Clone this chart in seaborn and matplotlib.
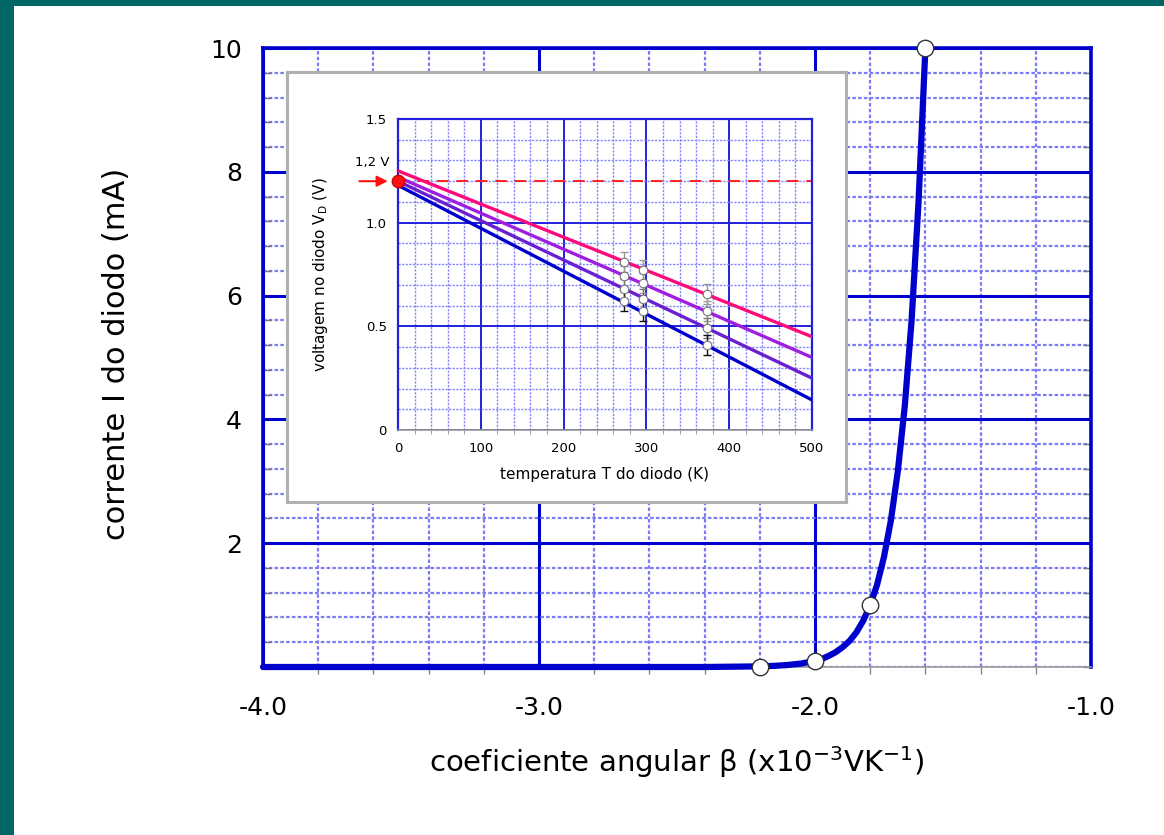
import matplotlib
matplotlib.use("Agg")
import matplotlib.pyplot as plt
import seaborn as sns
from matplotlib.patches import Rectangle
from matplotlib.ticker import MultipleLocator, FixedLocator

# ---------------- data ----------------
beta_curve = [-4.0, -3.0, -2.4, -2.2, -2.15, -2.1, -2.05, -2.0, -1.975, -1.95,
              -1.925, -1.9, -1.875, -1.85, -1.825, -1.8, -1.775, -1.75,
              -1.725, -1.7, -1.675, -1.65, -1.625, -1.6]
current_curve = [0.0, 0.0, 0.0, 0.01, 0.018, 0.032, 0.056, 0.1, 0.13, 0.18,
                 0.24, 0.32, 0.42, 0.56, 0.75, 1.0, 1.33, 1.78,
                 2.37, 3.16, 4.2, 5.6, 7.5, 10.0]
beta_pts = [-2.2, -2.0, -1.8, -1.6]
current_pts = [0.0, 0.1, 1.0, 10.0]
main_xticks = [-4.0, -3.0, -2.0, -1.0]
main_xticklabels = ["-4.0", "-3.0", "-2.0", "-1.0"]
main_yticks = [2, 4, 6, 8, 10]
main_yticklabels = ["2", "4", "6", "8", "10"]

temp_line = [0, 500]
vd_pink = [1.25, 0.45]
vd_purple = [1.22, 0.35]
vd_indigo = [1.20, 0.25]
vd_blue = [1.18, 0.145]
temp_meas = [273, 296, 373]
vd_meas_pink = [0.81, 0.772, 0.656]
vd_meas_purple = [0.743, 0.709, 0.574]
vd_meas_indigo = [0.68, 0.632, 0.492]
vd_meas_blue = [0.622, 0.574, 0.41]
vd_err = 0.05
v_ref = 1.2
inset_xticks = [0, 100, 200, 300, 400, 500]
inset_yticks = [0, 0.5, 1.0, 1.5]
inset_yticklabels = ["0", "0.5", "1.0", "1.5"]

# ---------------- style ----------------
sns.set_style("white")
plt.rcParams['font.family'] = ['DejaVu Sans']
plt.rcParams['text.color'] = 'black'
plt.rcParams['axes.labelcolor'] = 'black'
plt.rcParams['xtick.labelcolor'] = 'black'
plt.rcParams['ytick.labelcolor'] = 'black'

W, H = 1164, 835
fig = plt.figure(figsize=(W / 100, H / 100), dpi=100)
fig.patch.set_facecolor('white')
teal = '#006666'
fig.add_artist(Rectangle((0, 0), 14 / W, 1, transform=fig.transFigure,
                         facecolor=teal, edgecolor='none', zorder=-5))
fig.add_artist(Rectangle((0, 1 - 6 / H), 1, 6 / H, transform=fig.transFigure,
                         facecolor=teal, edgecolor='none', zorder=-5))

BLUE = '#0000cc'
MINOR = '#7b7bf6'

# ---------------- main axes ----------------
ax = fig.add_axes([263 / W, 1 - 667 / H, 828 / W, 619 / H])
ax.set_facecolor('white')
ax.set_xlim(-4.0, -1.0)
ax.set_ylim(0, 10)
ax.xaxis.set_major_locator(FixedLocator(main_xticks))
ax.set_xticklabels(main_xticklabels)
ax.yaxis.set_major_locator(FixedLocator(main_yticks))
ax.set_yticklabels(main_yticklabels)
ax.xaxis.set_minor_locator(MultipleLocator(0.2))
ax.yaxis.set_minor_locator(MultipleLocator(0.4))
ax.grid(which='major', color=BLUE, lw=2.2, ls='-')
ax.grid(which='minor', color=MINOR, lw=1.6, ls=(0, (1.6, 1.0)))
ax.set_axisbelow(True)
for s in ['left', 'top', 'right']:
    ax.spines[s].set_color(BLUE)
    ax.spines[s].set_linewidth(2.6)
    ax.spines[s].set_visible(True)
ax.spines['bottom'].set_color('#999999')
ax.spines['bottom'].set_linewidth(1.2)
ax.spines['bottom'].set_visible(True)
ax.tick_params(axis='y', which='major', length=0, labelsize=18, pad=15)
ax.tick_params(axis='x', which='major', length=0, labelsize=18, pad=21)
ax.tick_params(axis='x', which='minor', bottom=True, direction='out',
               length=5, color='#888888', width=1)
ax.tick_params(axis='y', which='minor', left=True, right=True, direction='in',
               length=6, color='#777777', width=1)

sns.lineplot(x=beta_curve, y=current_curve, ax=ax, color=BLUE, lw=4.5,
             sort=False, legend=False, zorder=4, clip_on=False)
sns.scatterplot(x=beta_pts, y=current_pts, ax=ax, s=140, color='white',
                edgecolor='#333333', linewidth=1.0, zorder=6, clip_on=False,
                legend=False)

ax.set_ylabel('corrente I do diodo (mA)', fontsize=22)
ax.yaxis.set_label_coords(-0.16, 0.506)
ax.set_xlabel('coeficiente angular β (x10$^{-3}$VK$^{-1}$)', fontsize=21)
ax.xaxis.set_label_coords(0.5, -0.124)

# ---------------- inset frame ----------------
box = fig.add_axes([287 / W, 1 - 502 / H, 559 / W, 430 / H])
box.set_zorder(5)
box.set_facecolor('white')
box.set_xticks([])
box.set_yticks([])
for s in box.spines.values():
    s.set_visible(True)
    s.set_color('#b0b0b0')
    s.set_linewidth(2.2)

# ---------------- inset axes ----------------
ins = fig.add_axes([398 / W, 1 - 430 / H, 414 / W, 311 / H])
ins.set_zorder(6)
ins.set_facecolor('white')
ins.set_xlim(0, 500)
ins.set_ylim(0, 1.5)
ins.xaxis.set_major_locator(FixedLocator(inset_xticks))
ins.yaxis.set_major_locator(FixedLocator(inset_yticks))
ins.set_yticklabels(inset_yticklabels)
ins.xaxis.set_minor_locator(MultipleLocator(20))
ins.yaxis.set_minor_locator(MultipleLocator(0.1))
ins.grid(which='major', color='#2020dd', lw=1.4, ls='-')
ins.grid(which='minor', color='#8585ff', lw=1.0, ls=(0, (1.6, 1.0)))
ins.set_axisbelow(True)
for s in ['left', 'top', 'right']:
    ins.spines[s].set_color('#2020dd')
    ins.spines[s].set_linewidth(1.6)
    ins.spines[s].set_visible(True)
ins.spines['bottom'].set_color('#999999')
ins.spines['bottom'].set_linewidth(1.2)
ins.spines['bottom'].set_visible(True)
ins.tick_params(axis='y', which='major', length=0, labelsize=9.5, pad=8)
ins.tick_params(axis='x', which='major', length=0, labelsize=9.5, pad=9)
ins.tick_params(axis='x', which='minor', bottom=True, direction='out',
                length=3, color='#888888')

line_colors = ['#ff0a7a', '#a01ee0', '#6a1fd0', '#0000cc']
for vd, c in zip([vd_pink, vd_purple, vd_indigo, vd_blue], line_colors):
    sns.lineplot(x=temp_line, y=vd, ax=ins, color=c, lw=2.4, legend=False,
                 zorder=3)

ins.axhline(v_ref, color='#ff2020', lw=1.4, ls=(0, (6, 4)), zorder=2)

meas = [vd_meas_pink, vd_meas_purple, vd_meas_indigo, vd_meas_blue]
err_colors = ['#999999', '#999999', '#777777', '#111111']
for vd, ec in zip(meas, err_colors):
    ins.errorbar(temp_meas, vd, yerr=vd_err, fmt='none', ecolor=ec,
                 elinewidth=1.0, capsize=3, capthick=1.0, zorder=4)
for vd in meas:
    sns.scatterplot(x=temp_meas, y=vd, ax=ins, s=38, color='white',
                    edgecolor='#777777', linewidth=0.8, zorder=5, legend=False)

ins.scatter([0], [v_ref], s=80, color='#ff1010', edgecolor='#cc0000',
            zorder=7, clip_on=False)
ins.annotate('', xy=(-9, v_ref), xytext=(-50, v_ref),
             arrowprops=dict(arrowstyle='-|>', color='#ff1010', lw=1.5,
                             mutation_scale=16),
             annotation_clip=False)
ins.text(-31, 1.29, '1,2 V', fontsize=9.5, ha='center', va='center')

ins.set_ylabel('voltagem no diodo V$_{\\rm D}$ (V)', fontsize=11)
ins.yaxis.set_label_coords(-0.165, 0.5)
ins.set_xlabel('temperatura T do diodo (K)', fontsize=11)
ins.xaxis.set_label_coords(0.5, -0.12)

fig.savefig('out.png', dpi=100, facecolor=fig.get_facecolor())
